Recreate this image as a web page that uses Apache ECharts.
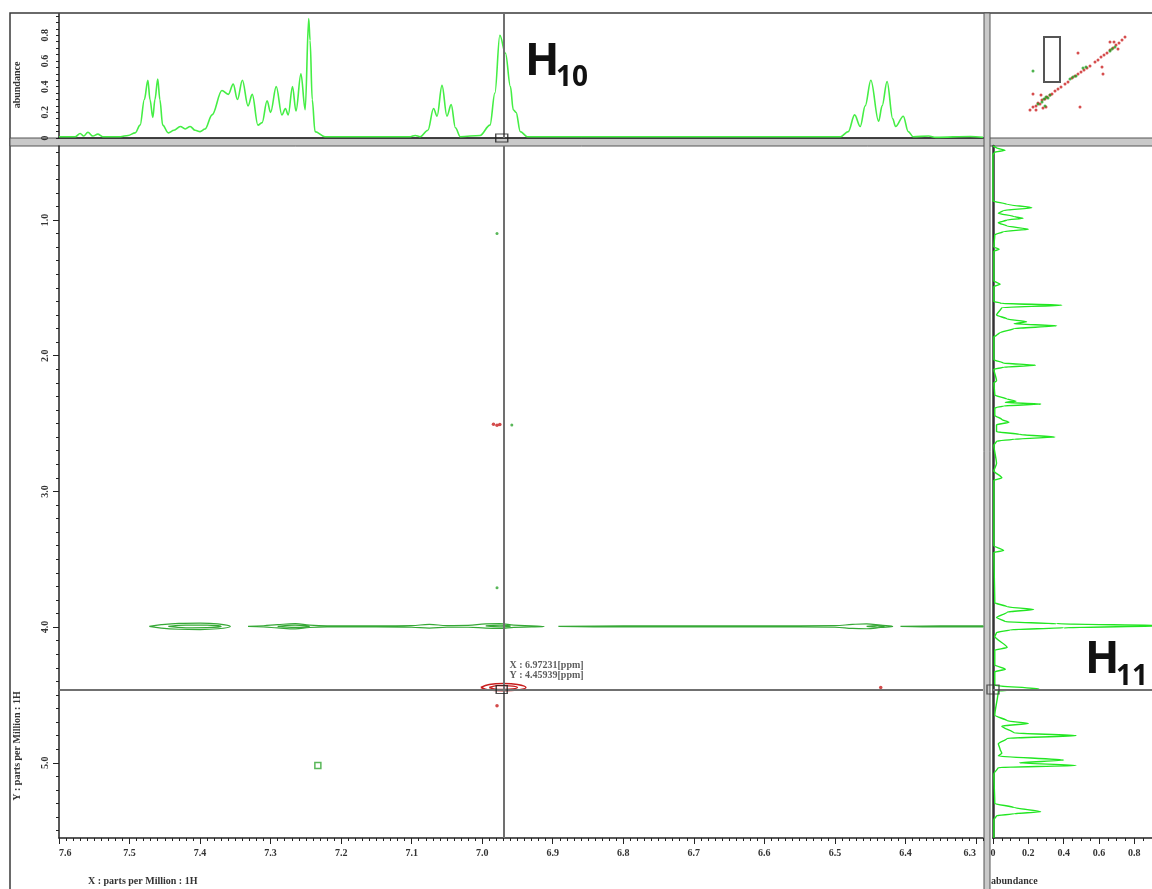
<!DOCTYPE html>
<html>
<head>
<meta charset="utf-8">
<style>
  html, body { margin: 0; padding: 0; background: #fff; }
  #main { width: 1152px; height: 889px; }
</style>
<script src="https://cdn.jsdelivr.net/npm/echarts@6/dist/echarts.min.js"></script>
</head>
<body>
<div id="main"></div>
<script>
// axis ticks / labels
var xTickLabels = [7.6, 7.5, 7.4, 7.3, 7.2, 7.1, 7.0, 6.9, 6.8, 6.7, 6.6, 6.5, 6.4, 6.3];
var yTickLabels = [1.0, 2.0, 3.0, 4.0, 5.0];
var abTickLabels = [0, 0.2, 0.4, 0.6, 0.8];

// cursor position
var cursor = [6.97231, 4.45939];

// 1D trace on top: [ppm, abundance]
var topTrace = [
  [7.600, 0.010], [7.577, 0.010], [7.570, 0.035], [7.565, 0.015], [7.559, 0.045],
  [7.552, 0.015], [7.545, 0.030], [7.538, 0.010], [7.513, 0.010], [7.502, 0.020],
  [7.492, 0.040], [7.485, 0.100], [7.479, 0.300], [7.474, 0.450], [7.471, 0.300],
  [7.467, 0.160], [7.464, 0.300], [7.460, 0.460], [7.457, 0.300], [7.453, 0.100],
  [7.445, 0.040], [7.437, 0.060], [7.428, 0.090], [7.421, 0.070], [7.414, 0.090],
  [7.407, 0.060], [7.400, 0.050], [7.393, 0.070], [7.383, 0.180], [7.369, 0.370],
  [7.360, 0.340], [7.353, 0.420], [7.347, 0.300], [7.340, 0.450], [7.332, 0.250],
  [7.326, 0.340], [7.318, 0.100], [7.312, 0.120], [7.305, 0.290], [7.300, 0.200],
  [7.292, 0.400], [7.284, 0.180], [7.279, 0.230], [7.275, 0.180], [7.269, 0.400],
  [7.264, 0.210], [7.257, 0.500], [7.251, 0.220], [7.246, 0.930], [7.244, 0.760],
  [7.241, 0.300], [7.237, 0.050], [7.223, 0.010], [7.102, 0.010], [7.095, 0.020],
  [7.088, 0.010], [7.077, 0.060], [7.069, 0.230], [7.064, 0.170], [7.057, 0.410],
  [7.050, 0.170], [7.044, 0.260], [7.038, 0.080], [7.031, 0.010], [7.003, 0.020],
  [6.989, 0.100], [6.982, 0.350], [6.975, 0.800], [6.967, 0.660], [6.960, 0.400],
  [6.956, 0.220], [6.952, 0.200], [6.946, 0.050], [6.936, 0.010], [6.492, 0.010],
  [6.481, 0.050], [6.472, 0.180], [6.464, 0.090], [6.457, 0.250], [6.449, 0.450],
  [6.438, 0.130], [6.433, 0.250], [6.426, 0.440], [6.418, 0.150], [6.414, 0.090],
  [6.403, 0.170], [6.396, 0.050], [6.389, 0.010], [6.367, 0.015], [6.357, 0.005],
  [6.308, 0.012], [6.290, 0.005]
];

// 1D trace on the right: [abundance, ppm]
var sideTrace = [
  [0.000, 0.455], [0.020, 0.470], [0.068, 0.487], [0.010, 0.500], [0.000, 0.520],
  [0.000, 0.860], [0.080, 0.885], [0.220, 0.910], [0.060, 0.930], [0.030, 0.950],
  [0.120, 0.975], [0.170, 0.988], [0.080, 1.000], [0.030, 1.020], [0.080, 1.045],
  [0.200, 1.068], [0.060, 1.085], [0.010, 1.110], [0.005, 1.200], [0.035, 1.216],
  [0.005, 1.230], [0.005, 1.450], [0.040, 1.473], [0.005, 1.490], [0.005, 1.600],
  [0.050, 1.615], [0.390, 1.628], [0.050, 1.645], [0.020, 1.700], [0.080, 1.730],
  [0.190, 1.750], [0.120, 1.765], [0.360, 1.780], [0.120, 1.800], [0.040, 1.830],
  [0.020, 1.850], [0.005, 1.860], [0.005, 2.030], [0.060, 2.055], [0.240, 2.070],
  [0.060, 2.085], [0.005, 2.100], [0.020, 2.185], [0.005, 2.200], [0.010, 2.290],
  [0.080, 2.320], [0.130, 2.335], [0.070, 2.345], [0.270, 2.356], [0.060, 2.370],
  [0.010, 2.385], [0.010, 2.440], [0.050, 2.470], [0.090, 2.490], [0.020, 2.510],
  [0.020, 2.560], [0.150, 2.580], [0.350, 2.600], [0.120, 2.615], [0.020, 2.630],
  [0.005, 2.660], [0.020, 2.795], [0.005, 2.850], [0.050, 2.900], [0.005, 2.920],
  [0.005, 3.400], [0.060, 3.436], [0.005, 3.450], [0.010, 3.820], [0.080, 3.850],
  [0.230, 3.870], [0.080, 3.890], [0.020, 3.930], [0.070, 3.960], [0.360, 3.975],
  [1.000, 3.990], [0.400, 4.005], [0.100, 4.020], [0.020, 4.040], [0.010, 4.070],
  [0.080, 4.150], [0.010, 4.170], [0.010, 4.280], [0.070, 4.310], [0.010, 4.330],
  [0.010, 4.430], [0.260, 4.455], [0.030, 4.470], [0.010, 4.650], [0.080, 4.690],
  [0.200, 4.710], [0.050, 4.730], [0.120, 4.780], [0.470, 4.800], [0.080, 4.820],
  [0.030, 4.860], [0.040, 4.900], [0.050, 4.930], [0.030, 4.950], [0.400, 4.980],
  [0.150, 5.000], [0.470, 5.020], [0.030, 5.035], [0.005, 5.080], [0.010, 5.300],
  [0.120, 5.330], [0.270, 5.360], [0.120, 5.375], [0.020, 5.390], [0.005, 5.420],
  [0.005, 5.554]
];

// 2D contour outlines: [ppm X, ppm Y]
var greenContours = [
  [[7.472, 3.995], [7.455, 3.982], [7.43, 3.972], [7.40, 3.970], [7.375, 3.976], [7.357, 3.995],
   [7.375, 4.012], [7.40, 4.018], [7.43, 4.016], [7.455, 4.008], [7.472, 3.995]],
  [[7.445, 3.995], [7.42, 3.985], [7.39, 3.985], [7.37, 3.995], [7.39, 4.004], [7.42, 4.005], [7.445, 3.995]],
  [[7.332, 3.995], [7.31, 3.990], [7.29, 3.982], [7.265, 3.975], [7.245, 3.986], [7.22, 3.991],
   [7.15, 3.991], [7.10, 3.989], [7.075, 3.980], [7.05, 3.989], [7.02, 3.988], [6.995, 3.976],
   [6.975, 3.975], [6.955, 3.986], [6.93, 3.991], [6.912, 3.995], [6.93, 3.999], [6.955, 4.002],
   [6.975, 4.010], [6.995, 4.008], [7.02, 4.001], [7.05, 4.001], [7.075, 4.008], [7.10, 4.001],
   [7.15, 3.999], [7.22, 3.999], [7.245, 4.003], [7.265, 4.013], [7.29, 4.006], [7.31, 3.999], [7.332, 3.995]],
  [[7.29, 3.995], [7.265, 3.986], [7.245, 3.995], [7.265, 4.002], [7.29, 3.995]],
  [[6.995, 3.991], [6.975, 3.985], [6.960, 3.992], [6.975, 3.999], [6.995, 3.991]],
  [[6.892, 3.995], [6.80, 3.991], [6.60, 3.991], [6.50, 3.989], [6.475, 3.980], [6.455, 3.976],
   [6.435, 3.986], [6.418, 3.995], [6.435, 4.003], [6.455, 4.012], [6.475, 4.010], [6.50, 4.001],
   [6.60, 3.999], [6.80, 3.999], [6.892, 3.995]],
  [[6.455, 3.995], [6.44, 3.989], [6.43, 3.995], [6.44, 4.001], [6.455, 3.995]],
  [[6.407, 3.995], [6.35, 3.991], [6.29, 3.991], [6.29, 3.999], [6.35, 3.999], [6.407, 3.995]]
];
var redContours = [
  [[7.002, 4.445], [6.990, 4.423], [6.970, 4.416], [6.950, 4.423], [6.938, 4.445],
   [6.950, 4.464], [6.970, 4.470], [6.990, 4.464], [7.002, 4.445]],
  [[6.990, 4.445], [6.978, 4.431], [6.962, 4.433], [6.950, 4.445], [6.962, 4.457], [6.978, 4.459], [6.990, 4.445]]
];
var greenDots = [[6.979, 1.10], [6.979, 3.71], [6.958, 2.51]];
var redDots = [[6.979, 4.58], [6.984, 2.505], [6.979, 2.512], [6.975, 2.508], [6.435, 4.445]];
var greenBox = [[7.233, 5.02]];

// overview thumbnail (top right), arbitrary units
var overviewRed = [
  [40, 29], [43, 32], [46, 33], [48, 36], [50, 35], [52, 39], [55, 40], [57, 42], [60, 44], [62, 45],
  [65, 48], [68, 50], [71, 52], [75, 55], [78, 57], [82, 61], [85, 63], [88, 65], [91, 67], [94, 69],
  [97, 71], [100, 73], [105, 77], [108, 79], [111, 82], [114, 84], [117, 86], [120, 89], [123, 91],
  [126, 94], [129, 96], [132, 99], [135, 102], [43, 45], [46, 29], [53, 31], [56, 32], [88, 86],
  [90, 32], [112, 72], [113, 65], [128, 90], [120, 97], [124, 97], [51, 44]
];
var overviewGreen = [
  [48, 35], [52, 37], [54, 40], [56, 42], [58, 41], [60, 44], [55, 33], [43, 68], [80, 60], [83, 62],
  [86, 63], [93, 71], [96, 72], [120, 88], [122, 90], [125, 92]
];
var overviewWindow = [[54, 57], [70, 102]];

var xMinor = [];
for (var i = 629; i <= 760; i++) xMinor.push(i / 100);
var yMinor = [];
for (var j = 5; j <= 55; j++) yMinor.push(j / 10);
var abMinor = [];
for (var k = 0; k <= 19; k++) abMinor.push(Math.round(k * 5) / 100);

var FONT = 'Liberation Serif';
var lblStyle = { fontFamily: FONT, fontWeight: 'bold', fontSize: 10, color: '#333' };
var lineCol = '#222';
var cursorCol = '#707070';

var chart = echarts.init(document.getElementById('main'));

var series = [];
greenContours.forEach(function (c) {
  series.push({
    type: 'line', xAxisIndex: 0, yAxisIndex: 0, data: c, smooth: 0.4,
    showSymbol: false, silent: true,
    lineStyle: { color: '#36a836', width: 1.2 }
  });
});
redContours.forEach(function (c) {
  series.push({
    type: 'line', xAxisIndex: 0, yAxisIndex: 0, data: c, smooth: 0.4,
    showSymbol: false, silent: true,
    lineStyle: { color: '#c81e1e', width: 1.4 }
  });
});
series.push({
  type: 'scatter', xAxisIndex: 0, yAxisIndex: 0, data: greenDots,
  symbolSize: 3, itemStyle: { color: '#2fa52f' }
});
series.push({
  type: 'scatter', xAxisIndex: 0, yAxisIndex: 0, data: redDots,
  symbolSize: 3.5, itemStyle: { color: '#c81e1e' }
});
series.push({
  type: 'scatter', xAxisIndex: 0, yAxisIndex: 0, data: greenBox,
  symbol: 'rect', symbolSize: 6,
  itemStyle: { color: 'rgba(255,255,255,0)', borderColor: '#2fa52f', borderWidth: 1.5 }
});
// cursor in main 2D plot
series.push({
  type: 'scatter', xAxisIndex: 0, yAxisIndex: 0, data: [cursor], z: 10,
  symbol: 'rect', symbolSize: [11, 8],
  itemStyle: { color: 'rgba(255,255,255,0)', borderColor: '#222', borderWidth: 1.3 },
  label: {
    show: true, position: [14, -24],
    formatter: 'X : ' + cursor[0].toFixed(5) + '[ppm]\nY : ' + cursor[1].toFixed(5) + '[ppm]',
    fontFamily: FONT, fontWeight: 'bold', fontSize: 10, lineHeight: 10, color: '#333'
  },
  markLine: {
    silent: true, symbol: 'none', label: { show: false },
    lineStyle: { color: cursorCol, width: 2, type: 'solid' },
    data: [{ xAxis: cursor[0] }, { yAxis: cursor[1] }]
  }
});
// top 1D trace
series.push({
  type: 'line', xAxisIndex: 2, yAxisIndex: 2, data: topTrace, smooth: 0.35,
  smoothMonotone: 'x', showSymbol: false, silent: true,
  lineStyle: { color: '#45ee45', width: 1.6 },
  markLine: {
    silent: true, symbol: 'none', label: { show: false },
    lineStyle: { color: cursorCol, width: 2, type: 'solid' },
    data: [{ xAxis: cursor[0] }]
  }
});
series.push({
  type: 'scatter', xAxisIndex: 2, yAxisIndex: 2, data: [[cursor[0], 0]], z: 10,
  symbol: 'rect', symbolSize: [12, 8],
  itemStyle: { color: 'rgba(255,255,255,0)', borderColor: '#222', borderWidth: 1.2 }
});
// right 1D trace
series.push({
  type: 'line', xAxisIndex: 3, yAxisIndex: 3, data: sideTrace, smooth: 0.2,
  smoothMonotone: 'y', showSymbol: false, silent: true,
  lineStyle: { color: '#22e622', width: 1.4 },
  markLine: {
    silent: true, symbol: 'none', label: { show: false },
    lineStyle: { color: cursorCol, width: 2, type: 'solid' },
    data: [{ yAxis: cursor[1] }]
  }
});
series.push({
  type: 'scatter', xAxisIndex: 3, yAxisIndex: 3, data: [[0, cursor[1]]], z: 10,
  symbol: 'rect', symbolSize: [12, 9],
  itemStyle: { color: 'rgba(255,255,255,0)', borderColor: '#333', borderWidth: 1.2 }
});
// overview thumbnail
series.push({
  type: 'scatter', xAxisIndex: 4, yAxisIndex: 4, data: overviewRed,
  symbolSize: 3, itemStyle: { color: '#cc2222' },
  markArea: {
    silent: true,
    itemStyle: { color: 'rgba(255,255,255,0)', borderColor: '#555', borderWidth: 2 },
    data: [[{ coord: overviewWindow[0] }, { coord: overviewWindow[1] }]]
  }
});
series.push({
  type: 'scatter', xAxisIndex: 4, yAxisIndex: 4, data: overviewGreen,
  symbolSize: 3, itemStyle: { color: '#22a022' }
});

var hidden = { show: false };

chart.setOption({
  animation: false,
  backgroundColor: '#fff',
  grid: [
    { left: 59, top: 146, width: 924, height: 692 },
    { left: 59, top: 14, width: 924, height: 124 },
    { left: 993, top: 146, width: 159, height: 692 },
    { left: 990, top: 14, width: 162, height: 125 }
  ],
  xAxis: [
    {
      type: 'value', gridIndex: 0, min: 6.29, max: 7.6, inverse: true, position: 'bottom',
      splitLine: hidden,
      axisLine: { show: true, onZero: false, lineStyle: { color: lineCol, width: 1.5 } },
      axisTick: { show: true, customValues: xTickLabels, length: 6, lineStyle: { color: lineCol } },
      axisLabel: Object.assign({ customValues: xTickLabels, margin: 10,
        alignMinLabel: 'left', alignMaxLabel: 'right',
        formatter: function (v) { return v.toFixed(1); } }, lblStyle)
    },
    {
      type: 'value', gridIndex: 0, min: 6.29, max: 7.6, inverse: true, position: 'bottom',
      splitLine: hidden, axisLine: hidden, axisLabel: hidden,
      axisTick: { show: true, customValues: xMinor, length: 3, lineStyle: { color: lineCol } }
    },
    {
      type: 'value', gridIndex: 1, min: 6.29, max: 7.6, inverse: true, position: 'bottom',
      splitLine: hidden, axisTick: hidden, axisLabel: hidden,
      axisLine: { show: true, onZero: false, lineStyle: { color: lineCol, width: 1.5 } }
    },
    {
      type: 'value', gridIndex: 2, min: 0, max: 0.9, position: 'bottom',
      splitLine: hidden,
      axisLine: { show: true, onZero: false, lineStyle: { color: lineCol, width: 1.5 } },
      axisTick: { show: true, customValues: abTickLabels, length: 6, lineStyle: { color: lineCol } },
      axisLabel: Object.assign({ customValues: abTickLabels, margin: 10,
        formatter: function (v) { return v === 0 ? '0' : v.toFixed(1); } }, lblStyle)
    },
    { type: 'value', gridIndex: 3, min: 0, max: 162, show: false },
    {
      type: 'value', gridIndex: 2, min: 0, max: 0.9, position: 'bottom',
      splitLine: hidden, axisLine: hidden, axisLabel: hidden,
      axisTick: { show: true, customValues: abMinor, length: 3, lineStyle: { color: lineCol } }
    }
  ],
  yAxis: [
    {
      type: 'value', gridIndex: 0, min: 0.455, max: 5.554, inverse: true, position: 'left',
      splitLine: hidden,
      axisLine: { show: true, onZero: false, lineStyle: { color: lineCol, width: 1.5 } },
      axisTick: { show: true, customValues: yTickLabels, length: 6, lineStyle: { color: lineCol } },
      axisLabel: Object.assign({ customValues: yTickLabels, rotate: 90, margin: 9,
        formatter: function (v) { return v.toFixed(1); } }, lblStyle)
    },
    {
      type: 'value', gridIndex: 0, min: 0.455, max: 5.554, inverse: true, position: 'left',
      splitLine: hidden, axisLine: hidden, axisLabel: hidden,
      axisTick: { show: true, customValues: yMinor, length: 3, lineStyle: { color: lineCol } }
    },
    {
      type: 'value', gridIndex: 1, min: 0, max: 0.966, position: 'left',
      splitLine: hidden,
      axisLine: { show: true, onZero: false, lineStyle: { color: lineCol, width: 1.5 } },
      axisTick: { show: true, customValues: abMinor, length: 3, lineStyle: { color: lineCol } },
      axisLabel: Object.assign({ customValues: abTickLabels, rotate: 90, margin: 9,
        formatter: function (v) { return v === 0 ? '0' : v.toFixed(1); } }, lblStyle)
    },
    {
      type: 'value', gridIndex: 2, min: 0.455, max: 5.554, inverse: true, position: 'left',
      splitLine: hidden, axisTick: hidden, axisLabel: hidden,
      axisLine: { show: true, onZero: false, lineStyle: { color: '#333', width: 2.5 } }
    },
    { type: 'value', gridIndex: 3, min: 0, max: 125, show: false }
  ],
  graphic: [
    { type: 'rect', z: 0, shape: { x: 10, y: 13, width: 1160, height: 890 },
      style: { fill: 'none', stroke: '#3a3a3a', lineWidth: 1.5 } },
    { type: 'rect', z: 0, shape: { x: 10, y: 138, width: 1160, height: 8 },
      style: { fill: '#c9c9c9', stroke: '#555', lineWidth: 1 } },
    { type: 'rect', z: 0, shape: { x: 984, y: 13, width: 6, height: 890 },
      style: { fill: '#c9c9c9', stroke: '#555', lineWidth: 1 } },
    { type: 'text', x: 17, y: 85, rotation: Math.PI / 2,
      style: { text: 'abundance', fontFamily: FONT, fontWeight: 'bold', fontSize: 10, fill: '#333',
        align: 'center', verticalAlign: 'middle' } },
    { type: 'text', x: 17, y: 746, rotation: Math.PI / 2,
      style: { text: 'Y : parts per Million : 1H', fontFamily: FONT, fontWeight: 'bold', fontSize: 10,
        fill: '#333', align: 'center', verticalAlign: 'middle' } },
    { type: 'text', x: 88, y: 881,
      style: { text: 'X : parts per Million : 1H', fontFamily: FONT, fontWeight: 'bold', fontSize: 10,
        fill: '#333', align: 'left', verticalAlign: 'middle' } },
    { type: 'text', x: 991, y: 881,
      style: { text: 'abundance', fontFamily: FONT, fontWeight: 'bold', fontSize: 10,
        fill: '#333', align: 'left', verticalAlign: 'middle' } },
    { type: 'text', x: 525, y: 62, z: 20,
      style: { text: 'H', fontFamily: 'Open Sans', fontWeight: 'bold', fontSize: 45,
        fill: '#111', align: 'left', verticalAlign: 'middle' } },
    { type: 'text', x: 556, y: 78, z: 20,
      style: { text: '10', fontFamily: 'Open Sans', fontWeight: 'bold', fontSize: 28,
        fill: '#111', align: 'left', verticalAlign: 'middle' } },
    { type: 'text', x: 1085, y: 660, z: 20,
      style: { text: 'H', fontFamily: 'Open Sans', fontWeight: 'bold', fontSize: 45,
        fill: '#111', align: 'left', verticalAlign: 'middle' } },
    { type: 'text', x: 1116, y: 677, z: 20,
      style: { text: '11', fontFamily: 'Open Sans', fontWeight: 'bold', fontSize: 28,
        fill: '#111', align: 'left', verticalAlign: 'middle' } }
  ],
  series: series
});
</script>
</body>
</html>
